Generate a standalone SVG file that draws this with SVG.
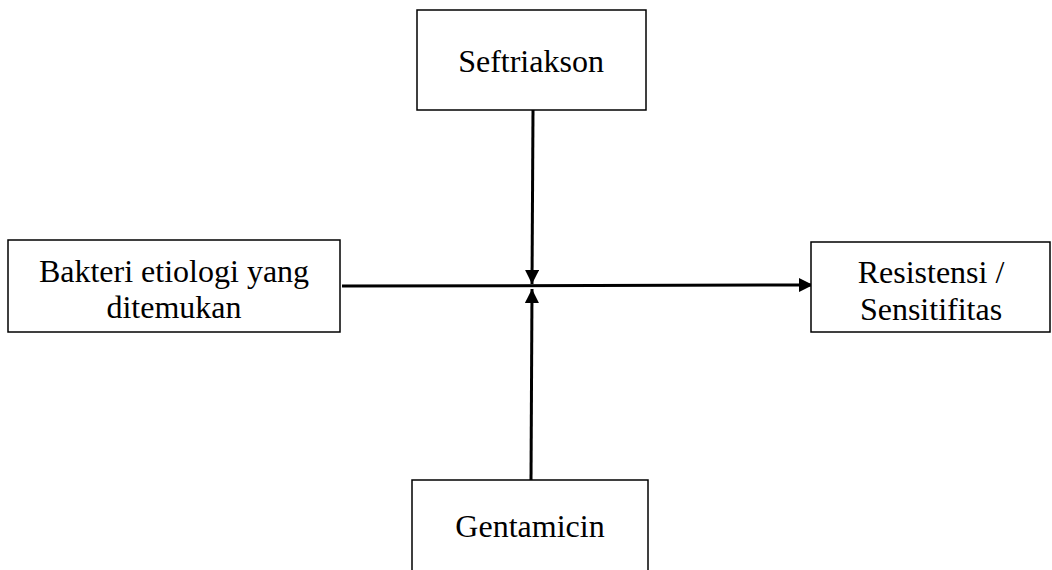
<svg xmlns="http://www.w3.org/2000/svg" width="1052" height="570" viewBox="0 0 1052 570">
<style>
.box{fill:#fff;stroke:#000;stroke-width:1.5}
.lbl{font-family:"Liberation Serif","Times New Roman",serif;font-size:32px;fill:#000;text-anchor:middle}
.con{stroke:#000;stroke-width:3;fill:none}
</style>
<defs>
<marker id="ah" markerUnits="userSpaceOnUse" markerWidth="14" markerHeight="14" refX="14" refY="7" orient="auto" viewBox="0 0 14 14">
<path d="M0,0 L14,7 L0,14 Z" fill="#000"/>
</marker>
</defs>
<rect width="1052" height="570" fill="#fff"/>
<g id="connectors">
<line class="con" x1="342" y1="286" x2="813" y2="285" marker-end="url(#ah)"/>
<line class="con" x1="533" y1="110" x2="532" y2="284" marker-end="url(#ah)"/>
<line class="con" x1="531" y1="480" x2="532" y2="289" marker-end="url(#ah)"/>
</g>
<g id="seftriakson">
<rect class="box" x="417" y="10" width="229" height="100"/>
<text class="lbl" x="531" y="72">Seftriakson</text>
</g>
<g id="bakteri">
<rect class="box" x="8" y="240" width="332" height="92"/>
<text class="lbl" x="174" y="282">Bakteri etiologi yang</text>
<text class="lbl" x="174" y="318">ditemukan</text>
</g>
<g id="resistensi">
<rect class="box" x="811" y="242" width="239" height="90"/>
<text class="lbl" x="931" y="283">Resistensi /</text>
<text class="lbl" x="931" y="320">Sensitifitas</text>
</g>
<g id="gentamicin">
<rect class="box" x="412" y="480" width="236" height="110"/>
<text class="lbl" x="530" y="537">Gentamicin</text>
</g>
</svg>
